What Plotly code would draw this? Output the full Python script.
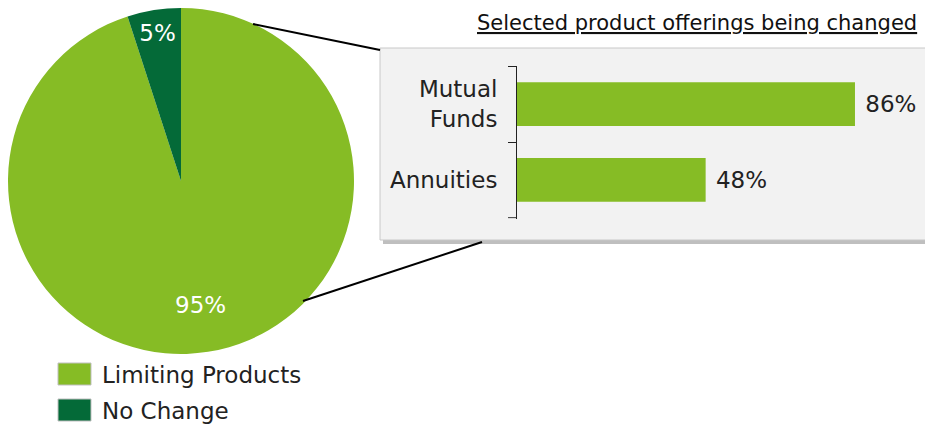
import plotly.graph_objects as go

# page body has an 8px margin, so the figure is drawn 8px in from the corner
OFF = 8
W, H = 933 - OFF, 426 - OFF

# ---- data ----
pie_labels = ["Limiting Products", "No Change"]
pie_values = [95, 5]
pie_colors = ["#86bc25", "#046a38"]

bar_categories = ["Mutual<br>Funds", "Annuities"]
bar_values = [86, 48]
bar_color = "#86bc25"

title_text = "Selected product offerings being changed"

FONT = "DejaVu Sans, Verdana, sans-serif"


def px(x):
    return (x - OFF) / W


def py(y):
    return 1 - (y - OFF) / H


pie_domain = dict(x=[px(8), px(354)], y=[py(354), py(8)])

fig = go.Figure()

# main pie (label for the small slice)
fig.add_trace(go.Pie(
    labels=pie_labels,
    values=pie_values,
    marker=dict(colors=pie_colors, line=dict(width=0)),
    sort=False,
    direction="clockwise",
    rotation=0,
    texttemplate=["", "%{value}%"],
    textposition="inside",
    insidetextorientation="horizontal",
    textfont=dict(color="white", size=23, family=FONT),
    domain=pie_domain,
    showlegend=False,
    hoverinfo="label+percent",
))
# transparent ring overlay to place the large slice's label further out
fig.add_trace(go.Pie(
    labels=pie_labels,
    values=pie_values,
    marker=dict(colors=["rgba(0,0,0,0)", "rgba(0,0,0,0)"], line=dict(width=0)),
    sort=False,
    direction="clockwise",
    rotation=0,
    hole=0.45,
    texttemplate=["%{value}%", ""],
    textposition="inside",
    insidetextorientation="horizontal",
    textfont=dict(color="white", size=23, family=FONT),
    domain=pie_domain,
    showlegend=False,
    hoverinfo="skip",
))

fig.add_trace(go.Bar(
    y=bar_categories,
    x=bar_values,
    orientation="h",
    marker=dict(color=bar_color, line=dict(width=0)),
    texttemplate="\u00a0%{x}%",
    textposition="outside",
    textfont=dict(size=23, color="#222222", family=FONT),
    cliponaxis=False,
    showlegend=False,
))

shapes = []
# shadow and panel
shapes.append(dict(type="rect", xref="paper", yref="paper",
                   x0=px(383), x1=px(945), y0=py(244), y1=py(51),
                   fillcolor="rgba(0,0,0,0.25)", line=dict(width=0), layer="below"))
shapes.append(dict(type="rect", xref="paper", yref="paper",
                   x0=px(380), x1=px(945), y0=py(240), y1=py(48),
                   fillcolor="#f2f2f2", line=dict(color="#c8c8c8", width=1), layer="below"))
# connector lines
shapes.append(dict(type="line", xref="paper", yref="paper",
                   x0=px(253), y0=py(24), x1=px(380), y1=py(50),
                   line=dict(color="black", width=2)))
shapes.append(dict(type="line", xref="paper", yref="paper",
                   x0=px(303), y0=py(301), x1=px(482), y1=py(242),
                   line=dict(color="black", width=2)))
# closing boundary tick at the bottom end of the category axis
shapes.append(dict(type="line", xref="paper", yref="y",
                   x0=px(508), x1=px(517),
                   y0=len(bar_categories) - 0.5, y1=len(bar_categories) - 0.5,
                   line=dict(color="#222222", width=1)))
# legend boxes
for i, c in enumerate(pie_colors):
    y0 = 363 + i * 36
    shapes.append(dict(type="rect", xref="paper", yref="paper",
                       x0=px(58), x1=px(91), y0=py(y0 + 22), y1=py(y0),
                       fillcolor=c, line=dict(color="#bfbfbf", width=1)))

annotations = []
for i, lab in enumerate(pie_labels):
    annotations.append(dict(x=px(100), y=py(375 + i * 36), xref="paper", yref="paper",
                            text=lab, showarrow=False, xanchor="left", yanchor="middle",
                            font=dict(size=23, color="#222222", family=FONT)))
annotations.append(dict(x=px(919), y=py(23), xref="paper", yref="paper",
                        text="<u>" + title_text + "</u>", showarrow=False,
                        xanchor="right", yanchor="middle",
                        font=dict(size=21, color="#111111", family=FONT)))

fig.update_layout(
    width=W, height=H,
    margin=dict(l=0, r=0, t=0, b=0),
    paper_bgcolor="white",
    plot_bgcolor="rgba(0,0,0,0)",
    font=dict(family=FONT, color="#222222"),
    bargap=0.42,
    xaxis=dict(domain=[px(517), px(910)], range=[0, 100], visible=False, fixedrange=True),
    yaxis=dict(domain=[py(218.5), py(65.5)], type="category",
               categoryorder="array", categoryarray=bar_categories,
               range=[1.51, -0.51],
               showline=True, linecolor="#222222", linewidth=1,
               ticks="outside", tickson="boundaries", ticklen=8, tickcolor="#222222",
               ticklabelstandoff=14,
               tickfont=dict(size=23, color="#222222", family=FONT),
               showgrid=False, zeroline=False),
    shapes=shapes,
    annotations=annotations,
)

fig.write_html("out.html")
